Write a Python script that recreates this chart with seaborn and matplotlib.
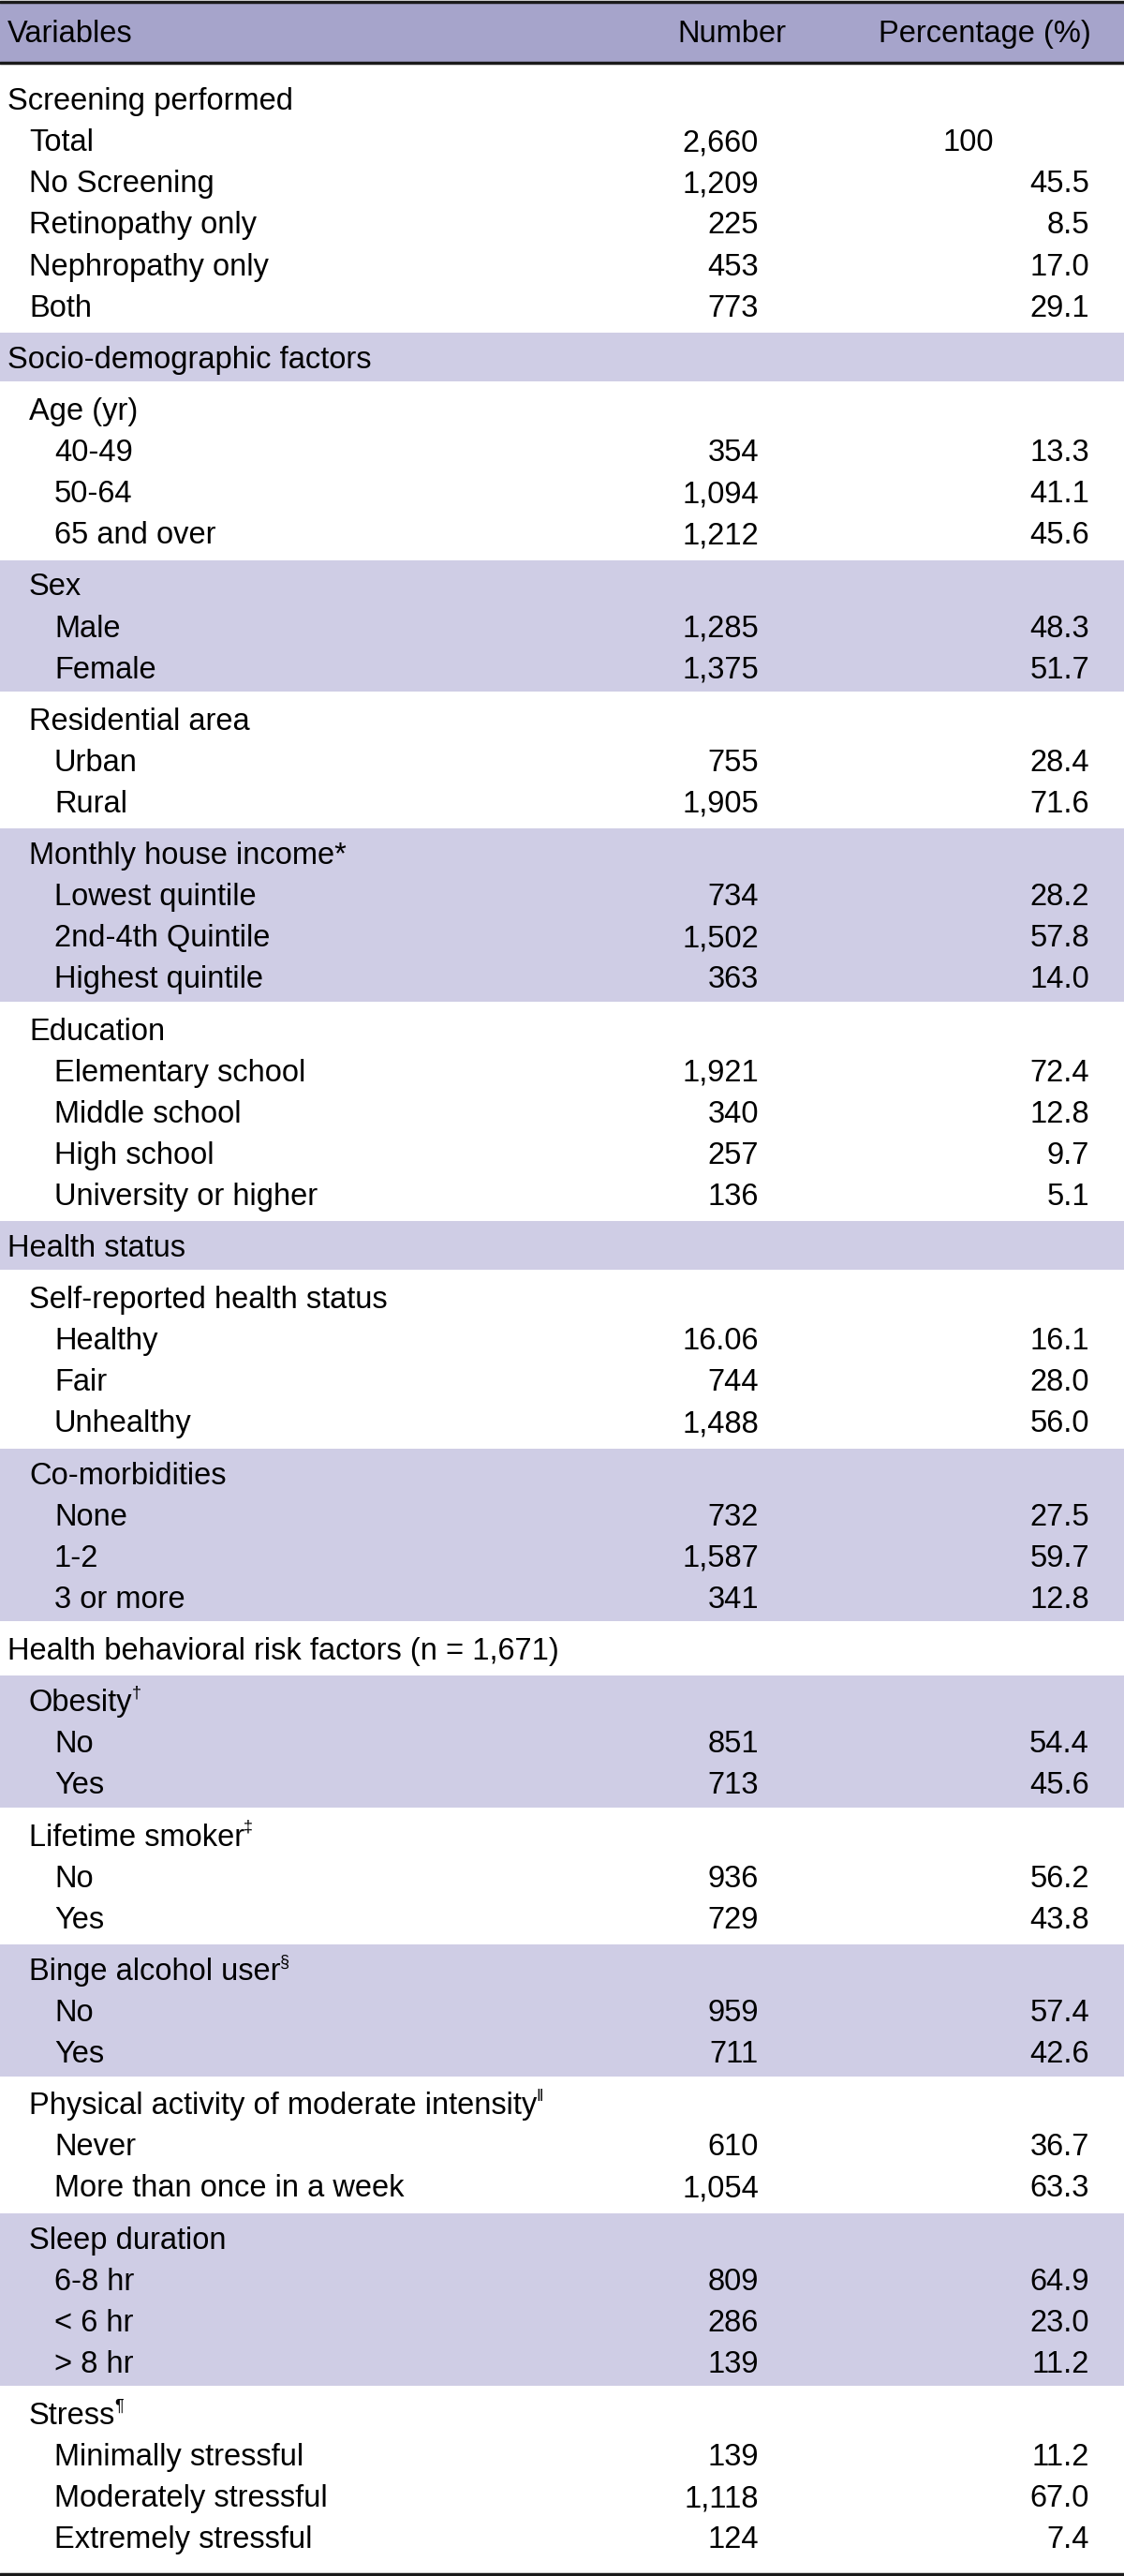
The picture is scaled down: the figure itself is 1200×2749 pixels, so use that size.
import pandas as pd
import seaborn as sns
from matplotlib import pyplot as plt

# table content
screening_labels = ["Total", "No Screening", "Retinopathy only", "Nephropathy only", "Both"]
screening_n = [2660, 1209, 225, 453, 773]
screening_pct = [100, 45.5, 8.5, 17.0, 29.1]

age_labels = ["40-49", "50-64", "65 and over"]
age_n = [354, 1094, 1212]
age_pct = [13.3, 41.1, 45.6]

sex_labels = ["Male", "Female"]
sex_n = [1285, 1375]
sex_pct = [48.3, 51.7]

area_labels = ["Urban", "Rural"]
area_n = [755, 1905]
area_pct = [28.4, 71.6]

income_labels = ["Lowest quintile", "2nd-4th Quintile", "Highest quintile"]
income_n = [734, 1502, 363]
income_pct = [28.2, 57.8, 14.0]

edu_labels = ["Elementary school", "Middle school", "High school", "University or higher"]
edu_n = [1921, 340, 257, 136]
edu_pct = [72.4, 12.8, 9.7, 5.1]

health_labels = ["Healthy", "Fair", "Unhealthy"]
health_n = [16.06, 744, 1488]
health_pct = [16.1, 28.0, 56.0]

comorb_labels = ["None", "1-2", "3 or more"]
comorb_n = [732, 1587, 341]
comorb_pct = [27.5, 59.7, 12.8]

obesity_labels = ["No", "Yes"]
obesity_n = [851, 713]
obesity_pct = [54.4, 45.6]

smoker_labels = ["No", "Yes"]
smoker_n = [936, 729]
smoker_pct = [56.2, 43.8]

binge_labels = ["No", "Yes"]
binge_n = [959, 711]
binge_pct = [57.4, 42.6]

activity_labels = ["Never", "More than once in a week"]
activity_n = [610, 1054]
activity_pct = [36.7, 63.3]

sleep_labels = ["6-8 hr", "< 6 hr", "> 8 hr"]
sleep_n = [809, 286, 139]
sleep_pct = [64.9, 23.0, 11.2]

stress_labels = ["Minimally stressful", "Moderately stressful", "Extremely stressful"]
stress_n = [139, 1118, 124]
stress_pct = [11.2, 67.0, 7.4]

# (title, title level, superscript, labels, numbers, percentages)
groups = [
    ("Screening performed", 0, "", screening_labels, screening_n, screening_pct),
    ("Socio-demographic factors", 0, "", [], [], []),
    ("Age (yr)", 1, "", age_labels, age_n, age_pct),
    ("Sex", 1, "", sex_labels, sex_n, sex_pct),
    ("Residential area", 1, "", area_labels, area_n, area_pct),
    ("Monthly house income*", 1, "", income_labels, income_n, income_pct),
    ("Education", 1, "", edu_labels, edu_n, edu_pct),
    ("Health status", 0, "", [], [], []),
    ("Self-reported health status", 1, "", health_labels, health_n, health_pct),
    ("Co-morbidities", 1, "", comorb_labels, comorb_n, comorb_pct),
    ("Health behavioral risk factors (n = 1,671)", 0, "", [], [], []),
    ("Obesity", 1, "\u2020", obesity_labels, obesity_n, obesity_pct),
    ("Lifetime smoker", 1, "\u2021", smoker_labels, smoker_n, smoker_pct),
    ("Binge alcohol user", 1, "\u00a7", binge_labels, binge_n, binge_pct),
    ("Physical activity of moderate intensity", 1, "\u01c1", activity_labels, activity_n, activity_pct),
    ("Sleep duration", 1, "", sleep_labels, sleep_n, sleep_pct),
    ("Stress", 1, "\u00b6", stress_labels, stress_n, stress_pct),
]


def fmt_n(v):
    return f"{v:,}" if isinstance(v, int) else str(v)


def fmt_p(v):
    return str(v) if isinstance(v, int) else f"{v:.1f}"


rows = []
for gi, (title, lvl, sup, labels, ns, ps) in enumerate(groups):
    rows.append(dict(group=gi, label=title, level=lvl, sup=sup, n="", p=""))
    for lab, n, p in zip(labels, ns, ps):
        rows.append(dict(group=gi, label=lab, level=lvl + 1, sup="", n=fmt_n(n), p=fmt_p(p)))
df = pd.DataFrame(rows)

sns.set_theme(style="white")
plt.rcParams["font.family"] = ["Liberation Sans", "DejaVu Sans"]
plt.rcParams["text.color"] = "black"

W, H = 1200, 2749
fig = plt.figure(figsize=(W / 100, H / 100), dpi=100)
ax = fig.add_axes([0, 0, 1, 1])
ax.set_xlim(0, W)
ax.set_ylim(H, 0)
ax.axis("off")

header_col = "#a6a4cb"
band_col = "#cfcde5"
line_col = "#1a1a1a"
fs = 23.5
pitch = 44.05
pad = 5.6
indent = {0: 8, 1: 31, 2: 58}
x_num = 810
x_pct = 1163
cap = 11.7  # half cap height in px

# header
ax.axhspan(2, 66, color=header_col, lw=0)
ax.axhline(1.5, color=line_col, lw=2.5)
ax.axhline(66.5, color=line_col, lw=2.5)
ax.text(8, 33 + cap, "Variables", fontsize=fs, va="baseline", ha="left")
ax.text(839, 33 + cap, "Number", fontsize=fs, va="baseline", ha="right")
ax.text(1165, 33 + cap, "Percentage (%)", fontsize=fs, va="baseline", ha="right")

y = 78
sup_texts = []
for gi, g in df.groupby("group", sort=True):
    top = y
    y += pad
    centers = [y + pitch * (i + 0.5) for i in range(len(g))]
    y += pitch * len(g) + pad
    if gi % 2 == 1:
        ax.axhspan(top + 1.5, y - 1.5, color=band_col, lw=0)
    for yc, (_, r) in zip(centers, g.iterrows()):
        t = ax.text(indent[r.level], yc + cap, r.label, fontsize=fs, va="baseline", ha="left")
        if r.sup:
            sup_texts.append((t, yc, r.sup))
        if r.n:
            ax.text(x_num, yc + cap, r.n, fontsize=fs, va="baseline", ha="right")
        if r.p:
            xp = x_pct if "." in r.p else x_pct - 102
            ax.text(xp, yc + cap, r.p, fontsize=fs, va="baseline", ha="right")

ax.axhline(H - 2, color=line_col, lw=2.5)

fig.canvas.draw()
renderer = fig.canvas.get_renderer()
for t, yc, s in sup_texts:
    bb = t.get_window_extent(renderer)
    ax.text(bb.x1 - 1, yc - 3, s, fontsize=13, va="baseline", ha="left",
            family=["Liberation Sans", "DejaVu Sans"])

fig.savefig("out.png", dpi=100)
